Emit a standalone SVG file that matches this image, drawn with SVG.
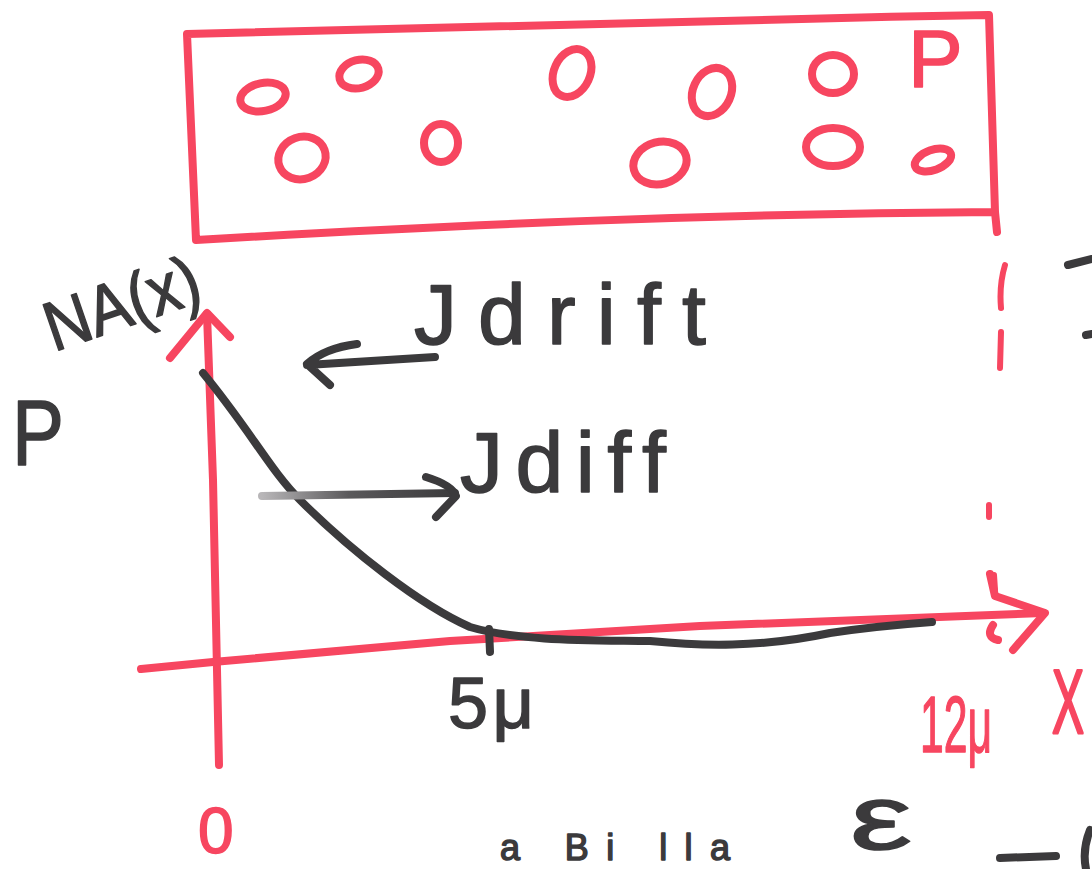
<svg xmlns="http://www.w3.org/2000/svg" width="1092" height="869" viewBox="0 0 1092 869">
<defs>
<style>
.r{fill:none;stroke:#f74660;stroke-width:8;stroke-linecap:round;stroke-linejoin:round}
.rd{fill:none;stroke:#f74660;stroke-width:6;stroke-linecap:round}
.k{fill:none;stroke:#3b3a3c;stroke-width:8;stroke-linecap:round;stroke-linejoin:round}
.tk{font-family:"Liberation Sans",Arial,sans-serif;fill:#3b3a3c;stroke:#3b3a3c;stroke-width:1.5;stroke-linejoin:round}
.tr{font-family:"Liberation Sans",Arial,sans-serif;fill:#f74660;stroke:#f74660;stroke-width:1.5;stroke-linejoin:round}
</style>
<linearGradient id="fade" x1="262" y1="0" x2="455" y2="0" gradientUnits="userSpaceOnUse">
<stop offset="0" stop-color="#b8b6b8"/>
<stop offset="0.45" stop-color="#5a595b"/>
<stop offset="1" stop-color="#3b3a3c"/>
</linearGradient>
</defs>
<rect width="1092" height="869" fill="#ffffff"/>

<g id="p-region">
<path class="r" d="M187,34 C400,28 700,20 989,15 L995,212 L997,232 M995,212 C700,214 450,225 196,240 L187,34"/>
<ellipse class="r" cx="263" cy="97" rx="23" ry="14" transform="rotate(-12 263 97)"/>
<ellipse class="r" cx="359" cy="74" rx="20" ry="14" transform="rotate(-15 359 74)"/>
<ellipse class="r" cx="302" cy="158" rx="24" ry="21" transform="rotate(-20 302 158)"/>
<ellipse class="r" cx="441" cy="143" rx="17" ry="19"/>
<ellipse class="r" cx="572" cy="73" rx="18" ry="25" transform="rotate(25 572 73)"/>
<ellipse class="r" cx="660" cy="163" rx="27" ry="21" transform="rotate(-15 660 163)"/>
<ellipse class="r" cx="712" cy="92" rx="19" ry="25" transform="rotate(25 712 92)"/>
<ellipse class="r" cx="833" cy="74" rx="21" ry="19"/>
<ellipse class="r" cx="833" cy="147" rx="27" ry="19"/>
<ellipse class="r" cx="933" cy="160" rx="19" ry="10" transform="rotate(-20 933 160)"/>
<text class="tr" x="908" y="87" font-size="82">P</text>
</g>

<g id="boundary">
<path class="rd" d="M1005,265 Q999,285 1001,308 M1001,332 L1000,368 M989,505 L989,517 M994,575 L995,590"/>
</g>

<g id="axes">
<path class="r" d="M207,314 L213,480 L219,765"/>
<path class="r" d="M170,358 L207,313 L230,337"/>
<path class="r" d="M141,669 L213,662 L450,641 L700,626 L1043,613"/>
<path class="r" d="M990,574 L995,596 L1045,613 L1013,650 M993,625 Q985,637 998,640"/>
</g>

<g id="curve">
<path class="k" d="M203,373 C250,430 270,470 300,500 C350,550 420,605 470,627 C520,642 600,640 650,641 C700,646 760,648 830,633 C870,627 905,624 932,622"/>
<path class="k" d="M489,629 L490,652" stroke-width="6"/>
</g>

<g id="connectors">
<path class="k" d="M435,357 L307,365 M357,344 Q325,348 307,364 L330,385"/>
<path d="M262,496 L455,493" fill="none" stroke="url(#fade)" stroke-width="8" stroke-linecap="round"/>
<path class="k" d="M426,477 Q452,485 456,496 L436,517"/>
</g>

<g id="labels">
<text class="tk" x="54" y="352" font-size="70" transform="rotate(-19 54 352)" textLength="160" lengthAdjust="spacingAndGlyphs">NA(x)</text>
<text class="tk" x="12" y="465" font-size="92" textLength="52" lengthAdjust="spacingAndGlyphs">P</text>
<text class="tk" x="414" y="344" font-size="86" textLength="292" lengthAdjust="spacing">Jdrift</text>
<text class="tk" x="460" y="492" font-size="86" textLength="206" lengthAdjust="spacing">Jdiff</text>
<text class="tk" x="448" y="728" font-size="72" textLength="86" lengthAdjust="spacing">5μ</text>
<text class="tr" x="920" y="752" font-size="80" textLength="72" lengthAdjust="spacingAndGlyphs">12μ</text>
<text class="tr" x="1052" y="386" font-size="48" transform="scale(1 1.9)">X</text>
<text class="tr" x="198" y="853" font-size="64">0</text>
<text class="tk" x="500" y="860" font-size="36" textLength="230" lengthAdjust="spacing">a Bi lla</text>
<text class="tk" x="850" y="849" font-size="90" textLength="62" lengthAdjust="spacingAndGlyphs">ε</text>
<path class="k" d="M1000,858 L1056,856"/>
<path class="k" d="M1090,830 Q1082,850 1086,869"/>
<path class="k" d="M1068,265 L1092,259 M1086,335 L1092,334"/>
</g>
</svg>
